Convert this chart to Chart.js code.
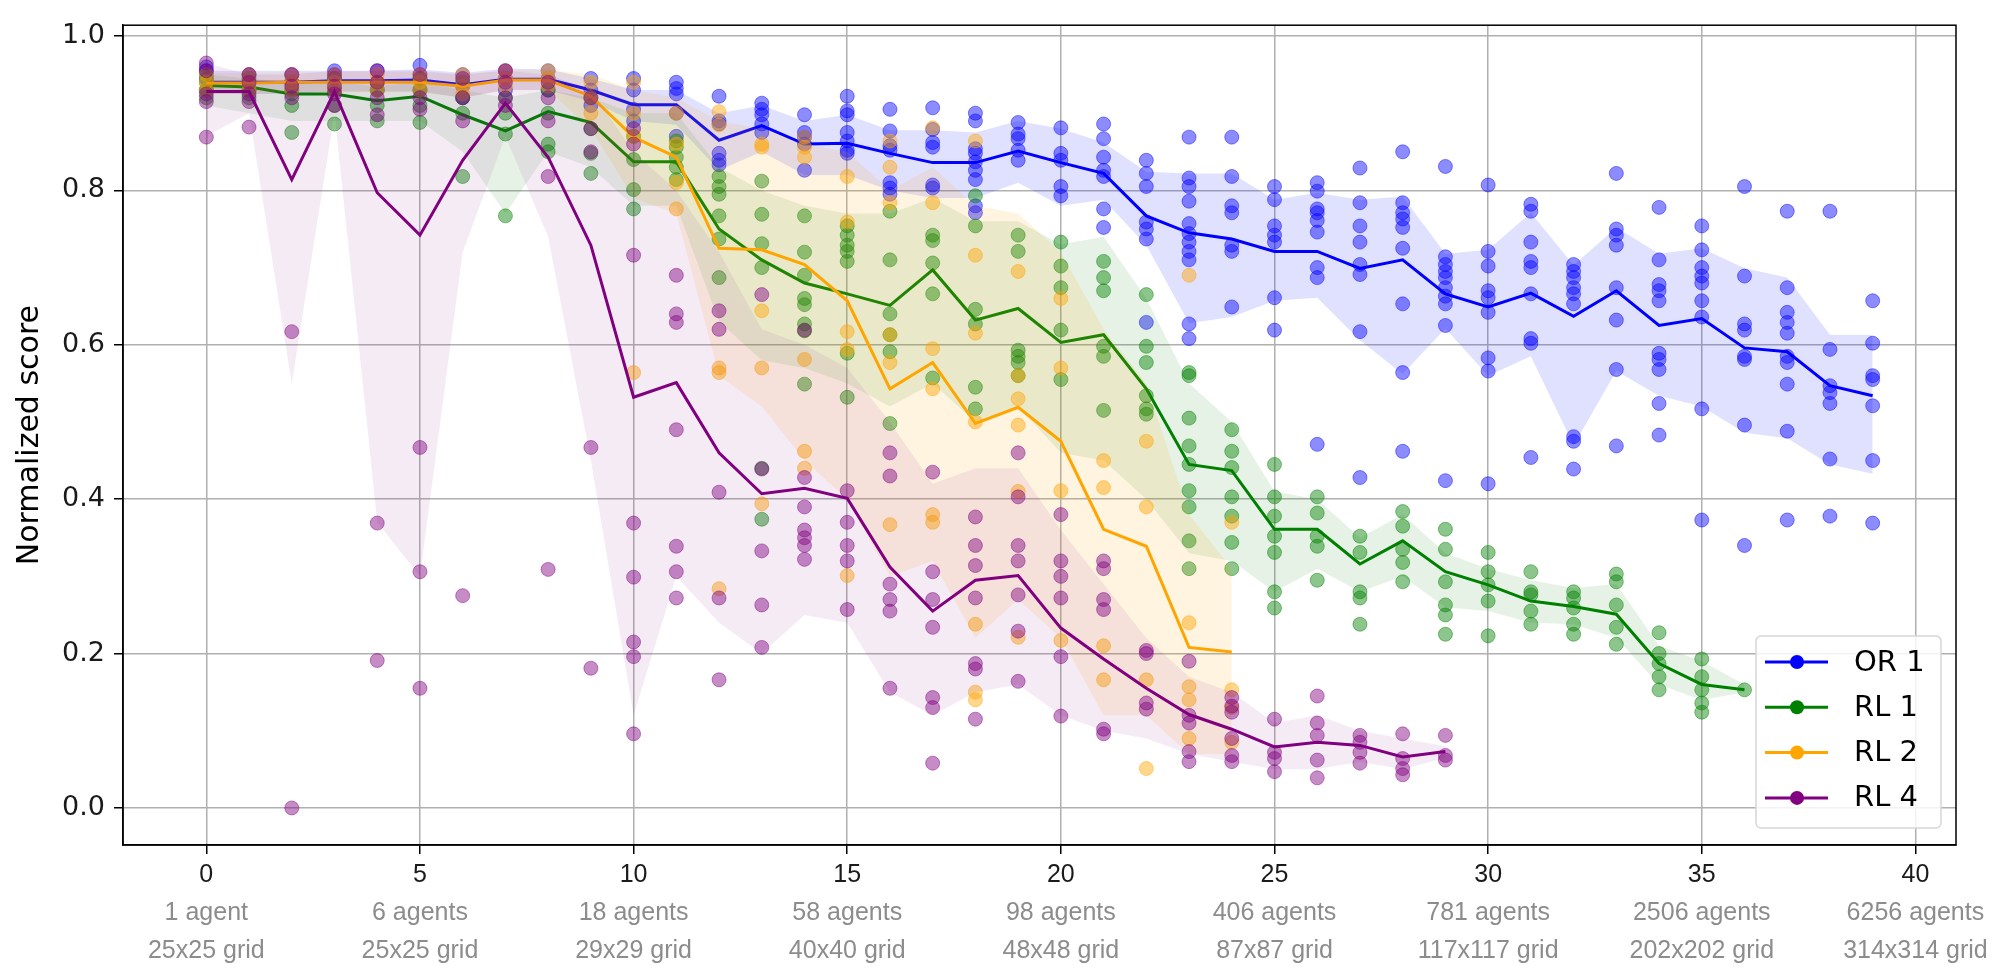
<!DOCTYPE html>
<html>
<head>
<meta charset="utf-8">
<script src="https://cdn.jsdelivr.net/npm/chart.js@4.4.1/dist/chart.umd.min.js"></script>
<style>
  html, body { margin: 0; padding: 0; background: #fff; }
  #wrap { width: 1995px; height: 973px; position: relative; }
</style>
</head>
<body>
<div id="wrap"><canvas id="chart"></canvas></div>
<script>
// x tick values and the two-line captions under them
const tickValues = [0, 5, 10, 15, 20, 25, 30, 35, 40];
const agentLabels = ['1 agent', '6 agents', '18 agents', '58 agents', '98 agents', '406 agents', '781 agents', '2506 agents', '6256 agents'];
const gridLabels = ['25x25 grid', '25x25 grid', '29x29 grid', '40x40 grid', '48x48 grid', '87x87 grid', '117x117 grid', '202x202 grid', '314x314 grid'];
const yTicks = [0, 0.2, 0.4, 0.6, 0.8, 1.0];

// OR 1 (index = scenario number)
const or1Mean = [0.94, 0.94, 0.94, 0.942, 0.942, 0.943, 0.937, 0.944, 0.944, 0.93, 0.911, 0.911, 0.865, 0.884, 0.86, 0.861, 0.848, 0.836, 0.836, 0.851,
  0.836, 0.822, 0.767, 0.745, 0.737, 0.721, 0.721, 0.699, 0.71, 0.666, 0.649, 0.667, 0.637, 0.67, 0.625, 0.634, 0.596, 0.591, 0.547, 0.534];
const or1Hi = [0.955, 0.955, 0.955, 0.955, 0.955, 0.957, 0.952, 0.958, 0.957, 0.945, 0.93, 0.93, 0.9, 0.91, 0.89, 0.898, 0.878, 0.878, 0.875, 0.89,
  0.88, 0.862, 0.824, 0.822, 0.822, 0.788, 0.797, 0.788, 0.792, 0.718, 0.723, 0.771, 0.703, 0.752, 0.718, 0.725, 0.699, 0.687, 0.613, 0.613];
const or1Lo = [0.925, 0.925, 0.925, 0.928, 0.928, 0.928, 0.92, 0.93, 0.93, 0.915, 0.89, 0.885, 0.826, 0.85, 0.82, 0.82, 0.8, 0.79, 0.79, 0.81,
  0.78, 0.788, 0.729, 0.628, 0.636, 0.657, 0.661, 0.606, 0.562, 0.621, 0.56, 0.585, 0.47, 0.566, 0.534, 0.52, 0.486, 0.479, 0.445, 0.433];
const or1Runs = [
  [0.93, 0.945, 0.955, 0.96], [0.93, 0.94, 0.95], [0.93, 0.94, 0.95], [0.93, 0.945, 0.955], [0.93, 0.94, 0.955],
  [0.93, 0.945, 0.962], [0.92, 0.935, 0.95], [0.93, 0.945, 0.955], [0.93, 0.945, 0.955], [0.91, 0.93, 0.945],
  [0.945, 0.93, 0.905, 0.89], [0.94, 0.932, 0.925, 0.9, 0.87], [0.922, 0.89, 0.886, 0.848, 0.839, 0.833],
  [0.913, 0.905, 0.898, 0.886, 0.875], [0.898, 0.875, 0.869, 0.86, 0.826], [0.922, 0.903, 0.898, 0.875, 0.864, 0.852, 0.848],
  [0.905, 0.877, 0.858, 0.852, 0.81, 0.803, 0.795], [0.907, 0.879, 0.862, 0.856, 0.807, 0.803],
  [0.9, 0.89, 0.854, 0.848, 0.837, 0.826, 0.814, 0.78, 0.771], [0.888, 0.873, 0.867, 0.852, 0.839],
  [0.881, 0.848, 0.839, 0.805, 0.793], [0.886, 0.867, 0.843, 0.826, 0.818, 0.776, 0.752],
  [0.839, 0.822, 0.805, 0.759, 0.75, 0.737, 0.629], [0.869, 0.816, 0.805, 0.786, 0.757, 0.744, 0.733, 0.721, 0.71, 0.627, 0.608],
  [0.869, 0.818, 0.78, 0.771, 0.729, 0.721, 0.649], [0.805, 0.788, 0.754, 0.742, 0.733, 0.661, 0.619],
  [0.81, 0.799, 0.776, 0.771, 0.761, 0.746, 0.7, 0.687, 0.471], [0.829, 0.784, 0.754, 0.733, 0.704, 0.691, 0.617, 0.428],
  [0.85, 0.784, 0.771, 0.763, 0.752, 0.725, 0.653, 0.564, 0.462], [0.831, 0.714, 0.704, 0.695, 0.687, 0.674, 0.663, 0.653, 0.625, 0.424],
  [0.807, 0.721, 0.702, 0.67, 0.661, 0.642, 0.583, 0.566, 0.42], [0.782, 0.773, 0.733, 0.708, 0.7, 0.666, 0.608, 0.602, 0.454],
  [0.704, 0.695, 0.687, 0.674, 0.666, 0.653, 0.481, 0.475, 0.439], [0.822, 0.75, 0.742, 0.729, 0.674, 0.632, 0.568, 0.469],
  [0.778, 0.71, 0.678, 0.67, 0.657, 0.589, 0.581, 0.568, 0.524, 0.483], [0.754, 0.723, 0.7, 0.689, 0.68, 0.657, 0.636, 0.517, 0.373],
  [0.805, 0.689, 0.627, 0.619, 0.585, 0.581, 0.496, 0.34], [0.773, 0.674, 0.642, 0.629, 0.615, 0.585, 0.577, 0.549, 0.488, 0.373],
  [0.773, 0.594, 0.547, 0.538, 0.524, 0.452, 0.378], [0.657, 0.602, 0.56, 0.555, 0.521, 0.45, 0.369]
];

// RL 1
const rl1Mean = [0.936, 0.934, 0.925, 0.925, 0.916, 0.922, 0.898, 0.877, 0.902, 0.888, 0.837, 0.837, 0.75, 0.71, 0.68, 0.666, 0.651, 0.697, 0.632, 0.647,
  0.603, 0.613, 0.543, 0.445, 0.437, 0.361, 0.361, 0.316, 0.346, 0.306, 0.289, 0.268, 0.261, 0.251, 0.187, 0.16, 0.153];
const rl1Hi = [0.95, 0.945, 0.94, 0.94, 0.935, 0.94, 0.93, 0.92, 0.93, 0.92, 0.9, 0.9, 0.83, 0.8, 0.78, 0.77, 0.77, 0.79, 0.76, 0.76,
  0.73, 0.74, 0.66, 0.55, 0.5, 0.41, 0.4, 0.35, 0.38, 0.33, 0.31, 0.295, 0.285, 0.29, 0.21, 0.19, 0.16];
const rl1Lo = [0.91, 0.9, 0.89, 0.89, 0.89, 0.89, 0.85, 0.77, 0.85, 0.83, 0.78, 0.78, 0.63, 0.58, 0.57, 0.55, 0.52, 0.55, 0.5, 0.52,
  0.46, 0.45, 0.4, 0.33, 0.32, 0.28, 0.31, 0.28, 0.3, 0.26, 0.255, 0.24, 0.238, 0.22, 0.16, 0.14, 0.15];
const rl1Runs = [
  [0.92, 0.93, 0.94, 0.95], [0.92, 0.93, 0.945], [0.875, 0.91, 0.925, 0.94], [0.886, 0.91, 0.93, 0.945], [0.89, 0.91, 0.93, 0.94],
  [0.888, 0.91, 0.93, 0.945], [0.818, 0.9, 0.92, 0.94], [0.767, 0.873, 0.9, 0.92], [0.85, 0.86, 0.9, 0.93], [0.822, 0.848, 0.88, 0.92],
  [0.776, 0.801, 0.84, 0.87], [0.814, 0.83, 0.843, 0.856, 0.864], [0.818, 0.805, 0.795, 0.767, 0.737, 0.687],
  [0.812, 0.769, 0.731, 0.7, 0.44, 0.374], [0.767, 0.72, 0.69, 0.66, 0.652, 0.627, 0.618, 0.549],
  [0.754, 0.742, 0.729, 0.721, 0.708, 0.589, 0.532], [0.773, 0.71, 0.64, 0.613, 0.591, 0.498],
  [0.742, 0.735, 0.706, 0.666, 0.557], [0.793, 0.754, 0.646, 0.627, 0.545, 0.517], [0.742, 0.721, 0.593, 0.585, 0.577, 0.56],
  [0.733, 0.702, 0.674, 0.619, 0.555], [0.708, 0.687, 0.67, 0.598, 0.585, 0.515], [0.665, 0.598, 0.577, 0.534, 0.517, 0.51],
  [0.564, 0.56, 0.505, 0.469, 0.445, 0.411, 0.39, 0.346, 0.31], [0.49, 0.462, 0.441, 0.403, 0.378, 0.344, 0.31],
  [0.445, 0.403, 0.378, 0.352, 0.331, 0.28, 0.259], [0.403, 0.382, 0.352, 0.339, 0.295], [0.352, 0.331, 0.28, 0.272, 0.238],
  [0.384, 0.365, 0.335, 0.318, 0.293], [0.361, 0.335, 0.293, 0.263, 0.25, 0.225], [0.331, 0.306, 0.289, 0.268, 0.223],
  [0.306, 0.28, 0.276, 0.255, 0.238], [0.28, 0.272, 0.259, 0.238, 0.225], [0.303, 0.293, 0.263, 0.234, 0.212],
  [0.227, 0.2, 0.187, 0.17, 0.153], [0.193, 0.17, 0.153, 0.136, 0.124], [0.153]
];

// RL 2
const rl2Mean = [0.939, 0.939, 0.94, 0.94, 0.94, 0.94, 0.935, 0.943, 0.943, 0.922, 0.869, 0.843, 0.725, 0.723, 0.704, 0.657, 0.543, 0.577, 0.498, 0.519,
  0.475, 0.361, 0.339, 0.208, 0.202];
const rl2Hi = [0.952, 0.952, 0.953, 0.953, 0.953, 0.953, 0.95, 0.956, 0.956, 0.95, 0.93, 0.92, 0.89, 0.88, 0.86, 0.85, 0.8, 0.83, 0.78, 0.77,
  0.72, 0.62, 0.55, 0.38, 0.31];
const rl2Lo = [0.925, 0.925, 0.927, 0.927, 0.927, 0.927, 0.92, 0.93, 0.93, 0.88, 0.79, 0.77, 0.56, 0.52, 0.45, 0.4, 0.3, 0.32, 0.22, 0.27,
  0.22, 0.12, 0.12, 0.07, 0.07];
const rl2Runs = [
  [0.93, 0.94, 0.95], [0.93, 0.94, 0.95], [0.93, 0.94, 0.95], [0.93, 0.94, 0.95], [0.93, 0.94, 0.95], [0.93, 0.94, 0.95],
  [0.925, 0.935, 0.95], [0.935, 0.945, 0.955], [0.935, 0.945, 0.955], [0.9, 0.92, 0.94],
  [0.94, 0.9, 0.87, 0.564], [0.9, 0.86, 0.81, 0.776], [0.902, 0.885, 0.57, 0.564, 0.284], [0.86, 0.856, 0.644, 0.57, 0.394],
  [0.869, 0.856, 0.843, 0.581, 0.462, 0.44], [0.818, 0.759, 0.617, 0.594, 0.301], [0.864, 0.83, 0.784, 0.613, 0.577, 0.367],
  [0.881, 0.784, 0.595, 0.543, 0.38, 0.37], [0.864, 0.716, 0.615, 0.5, 0.238, 0.15, 0.14], [0.695, 0.56, 0.53, 0.496, 0.41, 0.221],
  [0.66, 0.57, 0.411, 0.217], [0.45, 0.415, 0.21, 0.166], [0.475, 0.39, 0.166, 0.051], [0.69, 0.24, 0.157, 0.14, 0.09],
  [0.37, 0.153, 0.13, 0.085]
];

// RL 4
const rl4Mean = [0.928, 0.928, 0.814, 0.928, 0.797, 0.742, 0.839, 0.913, 0.843, 0.729, 0.532, 0.551, 0.46, 0.407, 0.414, 0.401, 0.312, 0.255, 0.295, 0.301,
  0.233, 0.193, 0.155, 0.121, 0.102, 0.079, 0.085, 0.081, 0.066, 0.073];
const rl4Hi = [0.965, 0.95, 0.95, 0.955, 0.955, 0.955, 0.95, 0.955, 0.95, 0.93, 0.85, 0.8, 0.72, 0.62, 0.6, 0.57, 0.5, 0.42, 0.44, 0.44,
  0.36, 0.29, 0.22, 0.17, 0.15, 0.11, 0.12, 0.1, 0.09, 0.08];
const rl4Lo = [0.87, 0.9, 0.55, 0.9, 0.37, 0.3, 0.72, 0.87, 0.74, 0.45, 0.12, 0.3, 0.24, 0.2, 0.25, 0.24, 0.15, 0.12, 0.15, 0.16,
  0.12, 0.1, 0.09, 0.07, 0.06, 0.05, 0.05, 0.06, 0.05, 0.065];
const rl4Runs = [
  [0.965, 0.955, 0.925, 0.915, 0.869], [0.95, 0.94, 0.925, 0.915, 0.882], [0.95, 0.935, 0.92, 0.617, 0.0], [0.95, 0.935, 0.925, 0.91],
  [0.955, 0.94, 0.92, 0.898, 0.369, 0.191], [0.95, 0.92, 0.905, 0.467, 0.306, 0.155], [0.945, 0.92, 0.89, 0.275],
  [0.955, 0.94, 0.92, 0.91], [0.94, 0.92, 0.89, 0.818, 0.309], [0.92, 0.88, 0.85, 0.467, 0.181],
  [0.88, 0.86, 0.716, 0.369, 0.299, 0.215, 0.196, 0.096], [0.69, 0.64, 0.629, 0.49, 0.339, 0.306, 0.272],
  [0.644, 0.62, 0.409, 0.272, 0.166], [0.665, 0.439, 0.333, 0.263, 0.208], [0.619, 0.428, 0.39, 0.36, 0.35, 0.34, 0.322],
  [0.411, 0.37, 0.34, 0.32, 0.257], [0.46, 0.43, 0.29, 0.27, 0.255, 0.155], [0.435, 0.306, 0.27, 0.234, 0.143, 0.13, 0.058],
  [0.377, 0.34, 0.314, 0.272, 0.187, 0.18, 0.115], [0.46, 0.403, 0.34, 0.32, 0.276, 0.229, 0.164],
  [0.38, 0.32, 0.3, 0.272, 0.196, 0.119], [0.32, 0.31, 0.27, 0.257, 0.102, 0.096], [0.204, 0.2, 0.136, 0.128],
  [0.19, 0.12, 0.11, 0.073, 0.06], [0.143, 0.132, 0.124, 0.09, 0.068, 0.06], [0.115, 0.072, 0.064, 0.047],
  [0.145, 0.11, 0.094, 0.062, 0.039], [0.094, 0.085, 0.072, 0.058], [0.096, 0.064, 0.051, 0.043], [0.094, 0.068, 0.062]
];

const seriesList = [
  { name: 'OR 1', rgb: '0,0,255', mean: or1Mean, hi: or1Hi, lo: or1Lo, runs: or1Runs, band: 0.12 },
  { name: 'RL 1', rgb: '0,128,0', mean: rl1Mean, hi: rl1Hi, lo: rl1Lo, runs: rl1Runs, band: 0.1 },
  { name: 'RL 2', rgb: '255,165,0', mean: rl2Mean, hi: rl2Hi, lo: rl2Lo, runs: rl2Runs, band: 0.12 },
  { name: 'RL 4', rgb: '128,0,128', mean: rl4Mean, hi: rl4Hi, lo: rl4Lo, runs: rl4Runs, band: 0.08 }
];

const toPts = arr => arr.map((v, i) => ({ x: i, y: v }));

// one group per series: band (lo + hi filled), scatter of runs, mean line
// lower "order" draws on top, so later series sit over earlier ones
const datasets = [];
seriesList.forEach((s, k) => {
  const base = 100 - k * 10;
  datasets.push({
    type: 'line', label: s.name + ' lo', data: toPts(s.lo),
    borderWidth: 0, pointRadius: 0, fill: false, order: base
  });
  datasets.push({
    type: 'line', label: s.name + ' hi', data: toPts(s.hi),
    borderWidth: 0, pointRadius: 0, fill: '-1',
    backgroundColor: `rgba(${s.rgb},${s.band})`, order: base
  });
  const runPts = [];
  s.runs.forEach((vals, i) => vals.forEach(v => runPts.push({ x: i, y: v })));
  datasets.push({
    type: 'scatter', label: s.name + ' runs', data: runPts,
    pointRadius: 7, pointHoverRadius: 7, borderWidth: 1,
    backgroundColor: `rgba(${s.rgb},0.45)`, borderColor: `rgba(${s.rgb},0.45)`, order: base - 1
  });
  datasets.push({
    type: 'line', label: s.name, data: toPts(s.mean),
    borderColor: `rgb(${s.rgb})`, borderWidth: 3, pointRadius: 0, fill: false,
    tension: 0, order: base - 2
  });
});

const setTicks = vals => scale => { scale.ticks = vals.map(v => ({ value: v })); };

// black box round the plot area
const framePlugin = {
  id: 'frame',
  afterDatasetsDraw(chart) {
    const { ctx, chartArea: a } = chart;
    ctx.save();
    ctx.strokeStyle = '#000';
    ctx.lineWidth = 1.5;
    ctx.strokeRect(a.left, a.top, a.right - a.left, a.bottom - a.top);
    ctx.restore();
  }
};

// matplotlib style legend, lower right inside the axes
const legendPlugin = {
  id: 'mplLegend',
  afterDraw(chart) {
    const { ctx, chartArea: a } = chart;
    const w = 185, h = 192;
    const left = a.right - 15 - w, top = a.bottom - 17 - h;
    ctx.save();
    ctx.fillStyle = 'rgba(255,255,255,0.85)';
    ctx.strokeStyle = '#d6d6d6';
    ctx.lineWidth = 1.5;
    ctx.beginPath();
    ctx.roundRect(left, top, w, h, 5);
    ctx.fill();
    ctx.stroke();
    ctx.font = '29px "DejaVu Sans"';
    ctx.textBaseline = 'middle';
    seriesList.forEach((s, i) => {
      const y = top + 26 + i * 45.3;
      ctx.strokeStyle = `rgb(${s.rgb})`;
      ctx.lineWidth = 3;
      ctx.beginPath();
      ctx.moveTo(left + 9, y);
      ctx.lineTo(left + 72, y);
      ctx.stroke();
      ctx.fillStyle = `rgb(${s.rgb})`;
      ctx.beginPath();
      ctx.arc(left + 41, y, 7, 0, Math.PI * 2);
      ctx.fill();
      ctx.fillStyle = '#000';
      ctx.fillText(s.name, left + 98, y + 1);
    });
    ctx.restore();
  }
};

new Chart(document.getElementById('chart'), {
  type: 'line',
  data: { datasets },
  options: {
    responsive: true,
    maintainAspectRatio: false,
    animation: false,
    events: [],
    layout: { padding: { top: 9, right: 39, left: 0, bottom: 0 } },
    plugins: { legend: { display: false }, tooltip: { enabled: false } },
    scales: {
      x: {
        type: 'linear', position: 'bottom', min: -1.95, max: 40.95,
        afterBuildTicks: setTicks(tickValues),
        afterFit: s => { s.height = 45; },
        grid: { color: '#b0b0b0', lineWidth: 1.5, tickLength: 9, tickColor: '#000', tickWidth: 1.5 },
        border: { display: true, color: '#000', width: 1.5 },
        ticks: {
          autoSkip: false, maxRotation: 0, padding: 6, color: '#1a1a1a',
          font: { family: '"Liberation Sans", Arial, sans-serif', size: 25 },
          callback: v => String(v)
        }
      },
      x2: {
        type: 'linear', position: 'bottom', min: -1.95, max: 40.95,
        afterBuildTicks: setTicks(tickValues),
        afterFit: s => { s.height = 83; },
        grid: { display: false, drawTicks: false },
        border: { display: false },
        ticks: {
          autoSkip: false, maxRotation: 0, padding: 4, color: '#8c8c8c',
          font: { family: '"Liberation Sans", Arial, sans-serif', size: 25, lineHeight: 1.52 },
          callback: (v, i) => [agentLabels[i], gridLabels[i]]
        }
      },
      y: {
        type: 'linear', min: -0.048, max: 1.014,
        afterBuildTicks: setTicks(yTicks),
        afterFit: s => { s.width = 123; },
        grid: { color: '#b0b0b0', lineWidth: 1.5, tickLength: 9, tickColor: '#000', tickWidth: 1.5 },
        border: { display: true, color: '#000', width: 1.5 },
        ticks: {
          padding: 9, color: '#1a1a1a',
          font: { family: '"DejaVu Sans", sans-serif', size: 27 },
          callback: v => v.toFixed(1)
        },
        title: {
          display: true, text: 'Normalized score', color: '#000',
          font: { family: '"DejaVu Sans", sans-serif', size: 30 },
          padding: { top: 12, bottom: 0 }
        }
      }
    }
  },
  plugins: [framePlugin, legendPlugin]
});
</script>
</body>
</html>
